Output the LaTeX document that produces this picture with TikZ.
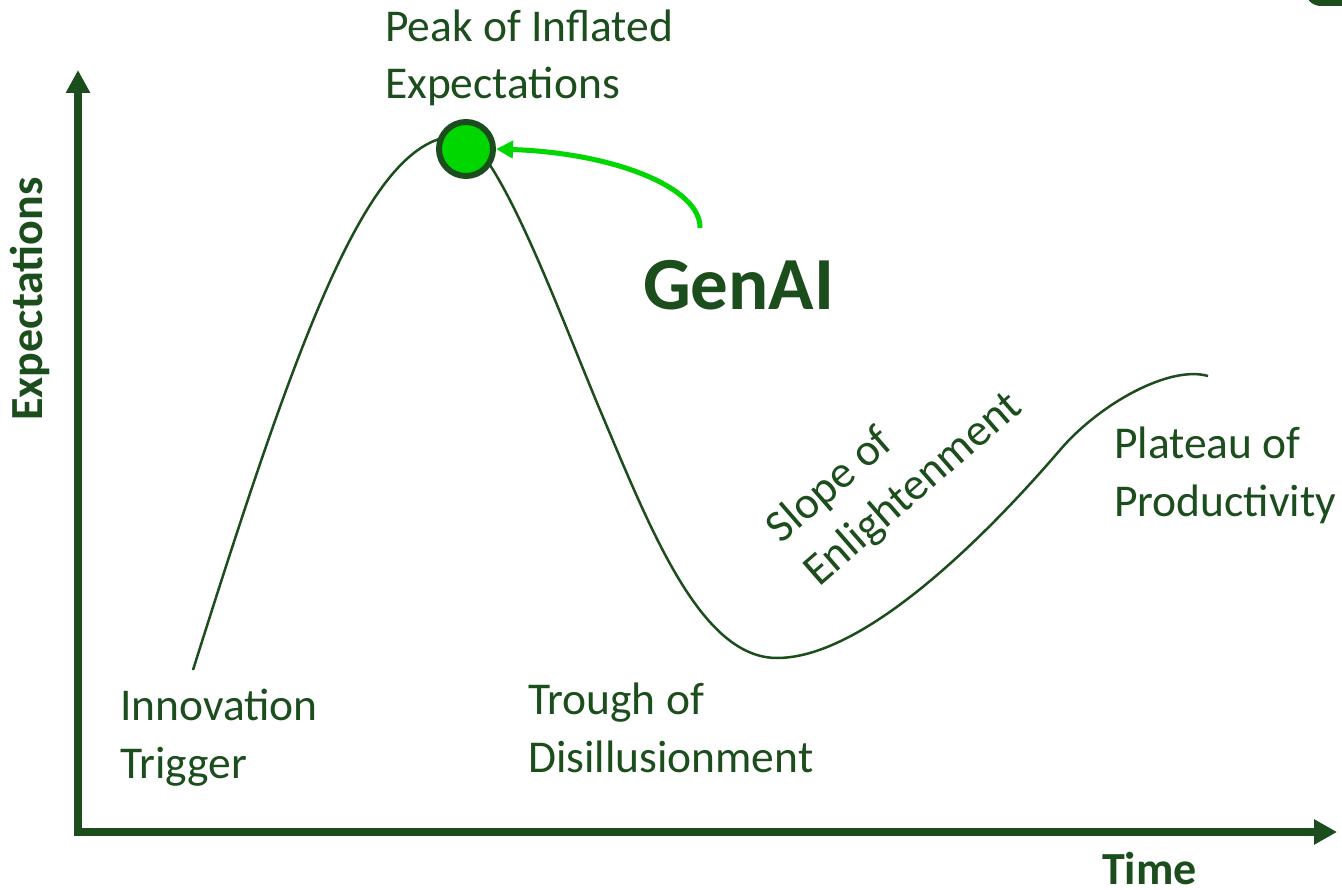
\documentclass[tikz,border=0pt]{standalone}
\usepackage{fontspec}
\setmainfont{Carlito}
\usetikzlibrary{arrows.meta}
\definecolor{dkgreen}{RGB}{28,77,28}
\definecolor{brgreen}{RGB}{0,214,0}
\begin{document}
\begin{tikzpicture}[x=1pt,y=-1pt,
  lbl/.style={text=dkgreen, font=\fontsize{45.5}{57.5}\selectfont, inner sep=0, align=left, anchor=base west},
  axlbl/.style={text=dkgreen, font=\fontsize{46}{56}\selectfont\bfseries, inner sep=0, anchor=base},
  axisline/.style={draw=dkgreen, line width=8pt, {Triangle[length=23pt,width=23pt]}-{Triangle[length=23pt,width=24pt]}},
  hype/.style={draw=dkgreen, line width=2.5pt},
  pointer/.style={draw=brgreen, line width=5pt, -{Triangle[length=17pt,width=17pt]}},
  marker/.style={circle, draw=dkgreen, fill=brgreen, line width=6pt, minimum size=54pt, inner sep=0}]
\useasboundingbox (0,0) rectangle (1342,890);
% cut-off shape at the top right
\begin{scope}
  \clip (0,0) rectangle (1342,890);
  \fill[dkgreen, rounded corners=16pt] (1305,-40) rectangle (1400,6);
\end{scope}
% axes
\coordinate (ytop) at (78,70);
\coordinate (origin) at (78,832);
\coordinate (xend) at (1337,832);
\draw[axisline] (ytop) -- (origin) -- (xend);
\node[axlbl, rotate=90] (ylbl) at (42,299) {Expectations};
\node[axlbl, anchor=base west] (xlbl) at (1102,884) {Time};
% hype curve
\coordinate (c0) at (193,670);
\coordinate (c1) at (458,136);
\coordinate (c2) at (600,410);
\coordinate (c3) at (777,658);
\coordinate (c4) at (1060,450);
\coordinate (c5) at (1208,376);
\draw[hype] (c0) .. controls (300,330) and (370,136) .. (c1)
  .. controls (495,136) and (560,315) .. (c2)
  .. controls (650,528) and (700,658) .. (c3)
  .. controls (870,658) and (1000,520) .. (c4)
  .. controls (1100,403.3) and (1170,365) .. (c5);
% marker and pointer
\node[marker] (peak) at (466,149) {};
\node[text=dkgreen, font=\fontsize{75}{90}\selectfont\bfseries, anchor=base west, inner sep=0] (genai) at (643,310) {GenAI};
\coordinate (gstart) at (700,228);
\draw[pointer] (gstart) .. controls (701,188) and (615,153) .. (peak.east);
% phase labels (anchor = baseline of the last line)
\node[lbl] (peaklbl) at (385,99) {Peak of Inflated\\Expectations};
\node[lbl] (innov) at (120,778) {Innovation\\Trigger};
\node[lbl] (trough) at (528,772) {Trough of\\Disillusionment};
\node[lbl, rotate=41] (slope) at (819,588) {Slope of\\Enlightenment};
\node[lbl] (plateau) at (1114,516) {Plateau of\\Productivity};
\end{tikzpicture}
\end{document}
